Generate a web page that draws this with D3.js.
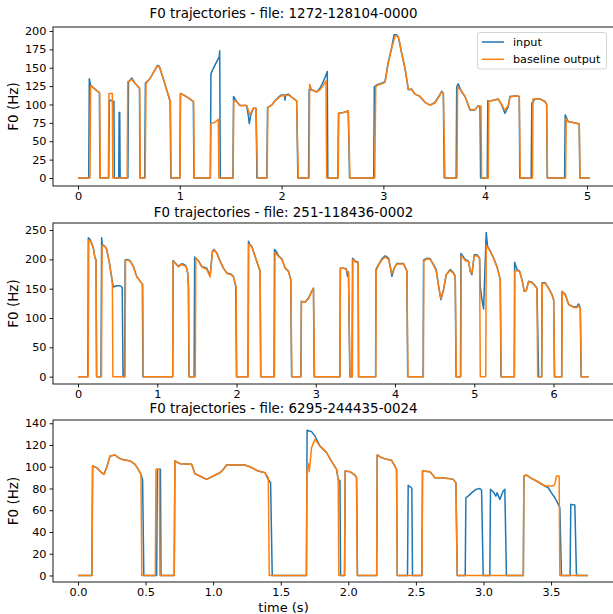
<!DOCTYPE html>
<html>
<head>
<meta charset="utf-8">
<script src="https://cdn.jsdelivr.net/npm/d3@7"></script>
<style>
  body { margin: 0; background: #fff; }
  svg text { font-family: "DejaVu Sans", sans-serif; fill: #000; }
</style>
</head>
<body>
<script>
'use strict';

// ---- data (time in s, F0 in Hz; 0 = unvoiced) ----
const titles = [
  'F0 trajectories - file: 1272-128104-0000',
  'F0 trajectories - file: 251-118436-0002',
  'F0 trajectories - file: 6295-244435-0024'
];
const seriesNames = ['input', 'baseline output'];

const xTicks1 = [0, 1, 2, 3, 4, 5];
const yTicks1 = [0, 25, 50, 75, 100, 125, 150, 175, 200];
const xTicks2 = [0, 1, 2, 3, 4, 5, 6];
const yTicks2 = [0, 50, 100, 150, 200, 250];
const xTicks3 = [0, 0.5, 1, 1.5, 2, 2.5, 3, 3.5];
const yTicks3 = [0, 20, 40, 60, 80, 100, 120, 140];

const input1 = [
  [0,0],[0.105,0],[0.111,135],[0.124,126],[0.141,124],[0.2,117],[0.21,116],[0.216,0],
  [0.302,0],[0.308,106],[0.331,105],[0.353,104],[0.357,0],
  [0.400,0],[0.404,89],[0.41,89],[0.414,0],
  [0.49,0],[0.496,130],[0.527,136],[0.56,129],[0.599,123],[0.604,122],[0.609,0],
  [0.655,0],[0.662,129],[0.707,135],[0.756,147],[0.779,153],[0.799,152],[0.838,135],[0.871,120],[0.905,104],[0.912,0],
  [1.0,0],[1.006,115],[1.035,113],[1.084,109],[1.133,104],[1.139,0],
  [1.300,0],[1.306,142],[1.329,149],[1.362,158],[1.388,165],[1.392,173],[1.398,0],
  [1.522,0],[1.528,111],[1.558,104],[1.591,98.5],[1.657,98.5],[1.672,86],[1.683,74],[1.696,85],[1.722,95],[1.749,95],[1.758,0],
  [1.855,0],[1.862,96],[1.902,99],[1.935,105],[1.978,111],[2.001,113],[2.027,113],[2.033,106],[2.04,113],[2.066,114],[2.099,110],[2.148,105],[2.16,0],
  [2.265,0],[2.271,120],[2.295,120],[2.344,117],[2.377,122],[2.41,131],[2.436,140],[2.449,145],[2.454,0],
  [2.553,0],[2.559,88],[2.606,89],[2.655,91],[2.668,0],
  [2.905,0],[2.911,124],[2.94,127],[2.983,129],[3.016,131],[3.048,158],[3.081,177],[3.105,195],[3.125,195],[3.147,192],[3.179,170],[3.212,149],[3.245,120],[3.278,121],[3.31,114],[3.359,111],[3.409,103],[3.458,99],[3.507,103],[3.549,112],[3.572,118],[3.589,115],[3.598,0],
  [3.715,0],[3.72,124],[3.735,128],[3.769,117],[3.802,111],[3.851,92.6],[3.9,92.6],[3.932,98.5],[3.949,95.7],[3.955,0],
  [4.02,0],[4.026,105],[4.063,105],[4.129,107.5],[4.162,99.4],[4.194,88],[4.227,97],[4.243,110.7],[4.309,112],[4.335,110.7],[4.34,0],
  [4.452,0],[4.458,101.6],[4.489,107.5],[4.538,107.5],[4.587,104],[4.604,100.3],[4.61,0],
  [4.78,0],[4.786,85.8],[4.816,76.7],[4.898,74.4],[4.924,73.5],[4.93,0],[5.03,0]
];
const output1 = [
  [0,0],[0.118,0],[0.124,125],[0.141,124],[0.2,117],[0.213,116],[0.219,0],
  [0.298,0],[0.304,115],[0.337,115],[0.342,0],
  [0.483,0],[0.489,131],[0.527,134],[0.56,129],[0.599,123],[0.606,121],[0.612,0],
  [0.66,0],[0.668,129],[0.707,135],[0.756,147],[0.779,152],[0.799,151],[0.838,135],[0.871,120],[0.908,104],[0.915,0],
  [1.002,0],[1.008,115],[1.035,113],[1.084,109],[1.136,104],[1.142,0],
  [1.300,0],[1.306,74],[1.346,75.8],[1.378,80],[1.384,0],
  [1.524,0],[1.53,105],[1.558,104],[1.591,98.5],[1.657,98.5],[1.69,86],[1.722,95],[1.749,95],[1.763,0],
  [1.858,0],[1.865,96],[1.902,99],[1.935,105],[1.978,110],[2.001,112],[2.033,112],[2.066,113],[2.099,110],[2.148,105],[2.164,0],
  [2.27,0],[2.276,127.5],[2.295,120],[2.344,117],[2.377,120],[2.41,126],[2.436,132],[2.443,0],
  [2.556,0],[2.562,88],[2.606,89],[2.655,91],[2.672,0],
  [2.915,0],[2.925,124],[2.94,126],[2.983,128],[3.016,130],[3.048,156],[3.081,176],[3.114,193],[3.14,193],[3.16,185],[3.179,170],[3.212,150],[3.245,121],[3.278,120],[3.31,114],[3.359,111],[3.409,103],[3.458,99],[3.507,102],[3.549,111],[3.572,117],[3.589,116],[3.605,0],
  [3.723,0],[3.729,124],[3.769,118],[3.802,111],[3.851,93],[3.9,93],[3.932,98],[3.959,98],[3.965,0],
  [4.03,0],[4.036,105],[4.063,105],[4.129,107],[4.162,100],[4.194,92],[4.227,99],[4.243,110],[4.309,112],[4.335,111],[4.345,0],
  [4.465,0],[4.47,107.5],[4.489,107.5],[4.538,107.5],[4.587,104],[4.604,100.3],[4.612,0],
  [4.79,0],[4.796,81],[4.816,76.7],[4.898,74.4],[4.924,73.5],[4.932,0],[5.03,0]
];

const input2 = [
  [0,0],[0.125,0],[0.13,237],[0.152,234],[0.172,228],[0.194,219],[0.215,202],[0.227,200],[0.234,0],
  [0.29,0],[0.298,237],[0.307,225],[0.341,222],[0.362,217],[0.396,194],[0.425,168],[0.446,153],[0.488,155],[0.53,155],[0.551,153],[0.558,152],[0.568,0],
  [0.588,0],[0.595,199],[0.615,200],[0.656,198],[0.699,188],[0.741,171],[0.783,163],[0.804,159],[0.812,158],[0.82,0],
  [1.195,0],[1.2,198],[1.225,194],[1.267,188],[1.3,192],[1.33,192],[1.364,189],[1.385,176],[1.393,154],[1.4,0],
  [1.465,0],[1.472,204],[1.519,198],[1.561,188],[1.624,185],[1.667,172],[1.696,214],[1.717,217],[1.751,211],[1.793,197],[1.835,185],[1.877,177],[1.928,175],[1.961,171],[1.99,154],[2.0,0],
  [2.145,0],[2.151,231],[2.165,226],[2.193,222],[2.235,205],[2.277,188],[2.298,180],[2.305,0],
  [2.474,0],[2.479,217],[2.5,214],[2.53,206],[2.572,201],[2.614,185],[2.656,180],[2.685,165],[2.695,0],
  [2.812,0],[2.818,128.5],[2.866,127],[2.908,134],[2.95,146],[2.971,151],[2.98,0],
  [3.304,0],[3.31,185],[3.35,185],[3.384,184],[3.401,171],[3.413,179],[3.43,0],
  [3.458,0],[3.464,202],[3.498,197],[3.535,195],[3.54,0],
  [3.755,0],[3.76,183],[3.792,191],[3.834,201],[3.876,206],[3.919,202],[3.94,188],[3.961,171],[3.99,185],[4.024,193],[4.108,193],[4.15,180],[4.16,0],
  [4.355,0],[4.36,198.5],[4.402,202],[4.444,201],[4.486,191],[4.52,182.6],[4.55,154],[4.579,131],[4.613,148.5],[4.646,174],[4.697,182.6],[4.739,177],[4.76,171],[4.77,0],
  [4.826,0],[4.832,210],[4.886,199.7],[4.928,197],[4.949,180],[4.97,174],[5.0,208],[5.034,208],[5.067,202.5],[5.075,154],[5.097,131],[5.118,115.5],[5.13,165],[5.151,246],[5.168,222],[5.202,214],[5.244,202.5],[5.286,188],[5.328,165.5],[5.337,0],
  [5.505,0],[5.509,195],[5.539,182.6],[5.572,180],[5.602,165.5],[5.631,145.6],[5.656,147],[5.686,162.7],[5.728,161],[5.77,155],[5.791,151],[5.812,0],
  [5.85,0],[5.856,160],[5.896,160],[5.938,151],[5.981,140],[6.002,131],[6.012,0],
  [6.103,0],[6.107,145.6],[6.149,140],[6.191,123],[6.254,119],[6.296,119],[6.317,124],[6.338,117],[6.348,0],[6.444,0]
];
const output2 = [
  [0,0],[0.13,0],[0.136,233],[0.152,232],[0.172,227],[0.194,219],[0.215,202],[0.227,200],[0.236,0],
  [0.296,0],[0.304,224],[0.341,222],[0.362,217],[0.396,194],[0.425,170],[0.434,155],[0.44,0],
  [0.593,0],[0.6,198],[0.615,199],[0.656,197],[0.699,187],[0.741,170],[0.783,163],[0.804,159],[0.817,158],[0.824,0],
  [1.195,0],[1.2,197],[1.225,194],[1.267,187],[1.3,191],[1.33,190],[1.364,188],[1.385,176],[1.395,154],[1.402,0],
  [1.48,0],[1.486,203],[1.519,197],[1.561,187],[1.624,183],[1.667,170],[1.696,212],[1.717,216],[1.751,210],[1.793,197],[1.835,185],[1.877,176],[1.928,174],[1.961,170],[1.995,154],[2.003,0],
  [2.148,0],[2.154,226],[2.165,225],[2.193,221],[2.235,205],[2.277,188],[2.298,180],[2.307,0],
  [2.479,0],[2.485,212],[2.53,205],[2.572,200],[2.614,185],[2.656,179],[2.685,165],[2.698,0],
  [2.814,0],[2.82,128],[2.866,127],[2.908,133],[2.95,145],[2.971,150],[2.984,0],
  [3.306,0],[3.312,185],[3.35,185],[3.384,183],[3.401,178],[3.413,178],[3.432,0],
  [3.462,0],[3.468,200],[3.498,196],[3.535,194],[3.54,0],
  [3.757,0],[3.762,180],[3.792,190],[3.834,199],[3.876,204],[3.919,200],[3.94,186],[3.961,176],[3.99,185],[4.024,192],[4.108,192],[4.15,180],[4.163,0],
  [4.358,0],[4.363,197],[4.402,201],[4.444,200],[4.486,190],[4.52,180],[4.55,155],[4.579,133],[4.613,150],[4.646,174],[4.697,181],[4.739,176],[4.76,170],[4.773,0],
  [4.83,0],[4.836,206],[4.886,198],[4.928,196],[4.949,180],[4.97,176],[5.0,206],[5.034,206],[5.067,202],[5.076,0],
  [5.145,0],[5.151,223.5],[5.168,221],[5.202,213],[5.244,202],[5.286,187],[5.328,165],[5.34,0],
  [5.507,0],[5.512,180],[5.539,181],[5.572,179],[5.602,165],[5.631,146],[5.656,147],[5.686,162],[5.728,160],[5.77,154],[5.791,150],[5.8,0],
  [5.852,0],[5.858,159],[5.896,159],[5.938,150],[5.981,139],[6.002,131],[6.014,0],
  [6.105,0],[6.11,145],[6.149,139],[6.191,123],[6.254,118],[6.296,118],[6.317,121],[6.338,116],[6.351,0],[6.444,0]
];

const input3 = [
  [0,0],[0.103,0],[0.108,100.7],[0.138,99.2],[0.175,94.5],[0.192,93],[0.212,99.2],[0.237,109.9],[0.274,110.8],[0.298,108.4],[0.323,106.8],[0.385,105.3],[0.422,102.2],[0.446,97.6],[0.466,93],[0.478,88],[0.487,0],
  [0.582,0],[0.587,97.6],[0.61,97.6],[0.614,0],
  [0.712,0],[0.717,105.3],[0.754,102.8],[0.841,102.2],[0.865,93.6],[0.902,91.5],[0.951,88.4],[1.001,91.5],[1.05,94.5],[1.075,97.6],[1.099,101.6],[1.235,101.6],[1.272,100],[1.334,96],[1.383,94.5],[1.408,88.4],[1.425,85.3],[1.437,0],
  [1.69,0],[1.695,133.5],[1.728,132.3],[1.753,128.3],[1.79,119],[1.839,113],[1.876,105],[1.913,97.6],[1.925,88.4],[1.938,87],[1.943,0],
  [1.972,0],[1.977,96],[2.012,95.5],[2.049,92.4],[2.061,90],[2.068,0],
  [2.21,0],[2.214,110.8],[2.246,108.4],[2.283,106.8],[2.32,105.9],[2.344,100.7],[2.357,97.6],[2.362,0],
  [2.438,0],[2.443,83],[2.46,81.3],[2.47,80],[2.475,0],
  [2.545,0],[2.549,96],[2.604,95.5],[2.641,89.9],[2.678,89.9],[2.739,89.3],[2.776,88.4],[2.796,85.3],[2.806,0],
  [2.865,0],[2.87,71.5],[2.887,73],[2.912,76],[2.944,79.2],[2.973,80],[2.986,78.3],[2.998,0],
  [3.047,0],[3.052,79.2],[3.072,77],[3.092,73],[3.101,76],[3.121,70],[3.146,77.7],[3.158,79.2],[3.17,0],
  [3.295,0],[3.299,91.5],[3.318,92.4],[3.355,89.3],[3.392,86.9],[3.442,83.2],[3.479,80.7],[3.503,76],[3.528,71.5],[3.548,67],[3.565,62.3],[3.577,0],
  [3.641,0],[3.646,65.4],[3.676,64.8],[3.688,0],[3.774,0]
];
const output3 = [
  [0,0],[0.103,0],[0.108,100.7],[0.138,99.2],[0.175,94.5],[0.192,93],[0.212,99.2],[0.237,109.9],[0.274,110.8],[0.298,108.4],[0.323,106.8],[0.385,105.3],[0.422,102.2],[0.446,97.6],[0.466,93],[0.472,0],
  [0.572,0],[0.577,97.6],[0.602,97.6],[0.606,0],
  [0.712,0],[0.717,105.3],[0.754,102.8],[0.841,102.2],[0.865,93.6],[0.902,91.5],[0.951,88.4],[1.001,91.5],[1.05,94.5],[1.075,97.6],[1.099,101.6],[1.235,101.6],[1.272,100],[1.334,96],[1.383,94.5],[1.408,90],[1.415,0],
  [1.69,0],[1.694,96],[1.704,102.8],[1.711,95.5],[1.728,117.6],[1.753,125.2],[1.79,119],[1.839,113],[1.876,105],[1.913,97.6],[1.925,88.4],[1.93,0],
  [1.972,0],[1.977,96],[2.012,95.5],[2.049,92.4],[2.061,90],[2.066,0],
  [2.21,0],[2.214,110.8],[2.246,108.4],[2.283,106.8],[2.32,105.9],[2.344,100.7],[2.357,97.6],[2.362,0],
  [2.545,0],[2.549,96],[2.604,95.5],[2.641,89.9],[2.678,89.9],[2.739,89.3],[2.776,88.4],[2.796,85.3],[2.806,0],
  [3.295,0],[3.299,91.5],[3.318,92.4],[3.355,89.3],[3.392,86.9],[3.442,83.2],[3.466,82.3],[3.516,82.3],[3.528,84],[3.54,91.5],[3.56,91.5],[3.565,0],[3.774,0]
];

(function() {

  let svgContainer = "";

  const colors = ['#1f77b4', '#ff7f0e'];
  const axLeft = 53, axRight = 617; // right spine falls just outside the picture
  const midX = 283.5;

  // layout of the three subplots (pixels) and their view limits
  const panels = [
    { title: titles[0], series: [input1, output1], xTicks: xTicks1, yTicks: yTicks1,
      xlim: [-0.2456, 5.295], ylim: [-10.9, 205.4], top: 27, bottom: 186, titleY: 18, fmt: d3.format('d') },
    { title: titles[1], series: [input2, output2], xTicks: xTicks2, yTicks: yTicks2,
      xlim: [-0.3155, 6.801], ylim: [-12.5, 262], top: 223, bottom: 384, titleY: 217, fmt: d3.format('d') },
    { title: titles[2], series: [input3, output3], xTicks: xTicks3, yTicks: yTicks3,
      xlim: [-0.185, 3.988], ylim: [-6, 143], top: 420, bottom: 582, titleY: 413, fmt: d3.format('.1f') }
  ];

  window.onload = function() {
    svgContainer = d3.select('body')
      .append('svg')
      .attr('width', 613)
      .attr('height', 614);

    panels.forEach((p, i) => drawPanel(p, i));
    drawLegend();

    svgContainer.append('text')
      .attr('x', midX)
      .attr('y', 612)
      .attr('text-anchor', 'middle')
      .style('font-size', '13px')
      .text('time (s)');
  }

  // one subplot: frame, ticks, title, y label and the two traces
  function drawPanel(p, i) {
    let xScale = d3.scaleLinear().domain(p.xlim).range([axLeft, axRight]);
    let yScale = d3.scaleLinear().domain(p.ylim).range([p.bottom, p.top]);

    let g = svgContainer.append('g');

    g.append('clipPath')
      .attr('id', 'clip' + i)
      .append('rect')
        .attr('x', axLeft)
        .attr('y', p.top)
        .attr('width', axRight - axLeft)
        .attr('height', p.bottom - p.top);

    let line = d3.line()
      .x((d) => xScale(d[0]))
      .y((d) => yScale(d[1]));

    p.series.forEach((s, k) => {
      g.append('path')
        .datum(s)
        .attr('clip-path', 'url(#clip' + i + ')')
        .attr('fill', 'none')
        .attr('stroke', colors[k])
        .attr('stroke-width', 1.5)
        .attr('stroke-linejoin', 'round')
        .attr('d', line);
    });

    // frame
    g.append('rect')
      .attr('x', axLeft)
      .attr('y', p.top)
      .attr('width', axRight - axLeft)
      .attr('height', p.bottom - p.top)
      .attr('fill', 'none')
      .attr('stroke', '#000')
      .attr('stroke-width', 0.9);

    let xAxis = d3.axisBottom(xScale)
      .tickValues(p.xTicks)
      .tickFormat(p.fmt)
      .tickSize(3.5)
      .tickPadding(2);
    let gx = g.append('g')
      .attr('transform', 'translate(0,' + p.bottom + ')')
      .call(xAxis);

    let yAxis = d3.axisLeft(yScale)
      .tickValues(p.yTicks)
      .tickFormat(d3.format('d'))
      .tickSize(3.5)
      .tickPadding(3);
    let gy = g.append('g')
      .attr('transform', 'translate(' + axLeft + ',0)')
      .call(yAxis);

    [gx, gy].forEach((a) => {
      a.select('.domain').remove();
      a.selectAll('line').attr('stroke', '#000').attr('stroke-width', 0.9);
      a.selectAll('text')
        .style('font-size', '11.3px')
        .style('font-family', '"DejaVu Sans", sans-serif')
        .attr('fill', '#000');
    });

    g.append('text')
      .attr('x', midX)
      .attr('y', p.titleY)
      .attr('text-anchor', 'middle')
      .style('font-size', '13.4px')
      .text(p.title);

    g.append('text')
      .attr('transform', 'translate(18,' + ((p.top + p.bottom) / 2) + ')rotate(-90)')
      .attr('text-anchor', 'middle')
      .style('font-size', '13.5px')
      .text('F0 (Hz)');
  }

  // legend box in the first subplot
  function drawLegend() {
    let legend = svgContainer.append('g').attr('class', 'legend');

    legend.append('rect')
      .attr('x', 477.5)
      .attr('y', 32.5)
      .attr('width', 129)
      .attr('height', 36.5)
      .attr('rx', 2.5)
      .attr('fill', '#fff')
      .attr('fill-opacity', 0.8)
      .attr('stroke', '#d0d0d0')
      .attr('stroke-width', 0.9);

    seriesNames.forEach((name, k) => {
      let y = 42 + k * 17.3;
      legend.append('line')
        .attr('x1', 482)
        .attr('x2', 504)
        .attr('y1', y)
        .attr('y2', y)
        .attr('stroke', colors[k])
        .attr('stroke-width', 1.5);
      legend.append('text')
        .attr('x', 513)
        .attr('y', y + 4)
        .style('font-size', '11.2px')
        .text(name);
    });
  }

})();
</script>
</body>
</html>
